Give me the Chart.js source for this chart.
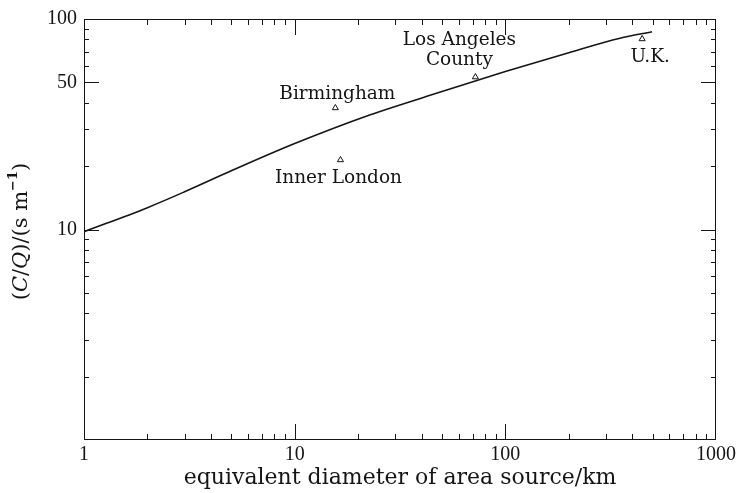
<!DOCTYPE html>
<html>
<head>
<meta charset="utf-8">
<script src="https://cdn.jsdelivr.net/npm/chart.js@4.4.1/dist/chart.umd.min.js"></script>
<style>
  html, body { margin: 0; padding: 0; background: #fff; }
</style>
</head>
<body>
<canvas id="chart" width="741" height="493"></canvas>
<script>
// curve
const curveX = [1, 2, 3, 5, 10, 22.7, 50, 100, 200, 350, 497];
const curveY = [9.76, 12.7, 15.1, 19.0, 25.6, 35.0, 45.2, 56.3, 69.2, 81.0, 87.0];

// observed sites
const siteNames = ['Birmingham', 'Inner London', 'Los Angeles\nCounty', 'U.K.'];
const siteX = [15.6, 16.5, 72.1, 446];
const siteY = [37.8, 21.4, 53.0, 80.4];

const xTickLabels = [1, 10, 100, 1000];
const yTickLabels = [10, 50, 100];

// where each site name sits relative to its marker (dx, dy of first baseline)
const labelOffsets = [[2, -9], [-2, 23], [-16, -32], [8, 23]];

const INK = '#151515';
const SERIF = '"DejaVu Serif", serif';
const TICK_FONT = '"Liberation Serif", serif';

function logMarks(min, max, extraMajor) {
    const out = [];
    for (let d = min; d < max; d *= 10) {
        for (let k = 1; k < 10; k++) {
            const v = k * d;
            if (v <= min) continue;
            out.push({ v: v, major: k === 1 || extraMajor.includes(v) });
        }
    }
    return out;
}

const framePlugin = {
    id: 'frame',
    afterDatasetsDraw(chart) {
        const ctx = chart.ctx;
        const a = chart.chartArea;
        const xs = chart.scales.x;
        const ys = chart.scales.y;
        ctx.save();
        ctx.strokeStyle = INK;
        ctx.lineWidth = 1;
        ctx.strokeRect(a.left + 0.5, a.top + 0.5, a.right - a.left - 1, a.bottom - a.top - 1);

        ctx.beginPath();
        logMarks(1, 1000, []).forEach(m => {
            const px = Math.round(xs.getPixelForValue(m.v)) + 0.5;
            const len = m.major ? 16 : 6;
            ctx.moveTo(px, a.bottom); ctx.lineTo(px, a.bottom - len);
            ctx.moveTo(px, a.top); ctx.lineTo(px, a.top + len);
        });
        logMarks(1, 100, [50]).forEach(m => {
            const py = Math.round(ys.getPixelForValue(m.v)) + 0.5;
            const len = m.major ? 15 : 5;
            ctx.moveTo(a.left, py); ctx.lineTo(a.left + len, py);
            ctx.moveTo(a.right, py); ctx.lineTo(a.right - len, py);
        });
        ctx.stroke();

        // site names
        ctx.fillStyle = INK;
        ctx.font = '18.5px ' + SERIF;
        ctx.textAlign = 'center';
        ctx.textBaseline = 'alphabetic';
        siteNames.forEach((name, i) => {
            const px = xs.getPixelForValue(siteX[i]) + labelOffsets[i][0];
            const py = ys.getPixelForValue(siteY[i]) + labelOffsets[i][1];
            name.split('\n').forEach((line, j) => ctx.fillText(line, px, py + j * 20));
        });

        // y axis title with italic C and Q
        const parts = [
            { t: '(', f: '21px ' + SERIF, dy: 0 },
            { t: 'C', f: 'italic 21px ' + SERIF, dy: 0 },
            { t: '/', f: '21px ' + SERIF, dy: 0 },
            { t: 'Q', f: 'italic 21px ' + SERIF, dy: 0 },
            { t: ')/(s m', f: '21px ' + SERIF, dy: 0 },
            { t: '\u22121', f: 'bold 13px ' + SERIF, dy: -8 },
            { t: ')', f: '21px ' + SERIF, dy: 0 }
        ];
        let total = 0;
        parts.forEach(p => { ctx.font = p.f; p.w = ctx.measureText(p.t).width; total += p.w; });
        ctx.translate(22, (a.top + a.bottom) / 2 + 2);
        ctx.rotate(-Math.PI / 2);
        ctx.textAlign = 'left';
        ctx.textBaseline = 'middle';
        let x = -total / 2;
        parts.forEach(p => {
            ctx.font = p.f;
            ctx.fillText(p.t, x, p.dy);
            x += p.w;
        });
        ctx.restore();
    }
};

const ctx = document.getElementById('chart').getContext('2d');
new Chart(ctx, {
    data: {
        datasets: [
            {
                type: 'line',
                data: curveX.map((x, i) => ({ x: x, y: curveY[i] })),
                borderColor: INK,
                borderWidth: 1.6,
                pointRadius: 0,
                cubicInterpolationMode: 'monotone',
                fill: false
            },
            {
                type: 'scatter',
                data: siteX.map((x, i) => ({ x: x, y: siteY[i] })),
                pointStyle: 'triangle',
                pointRadius: 3.5,
                borderColor: INK,
                backgroundColor: '#fff',
                borderWidth: 1
            }
        ]
    },
    options: {
        responsive: false,
        animation: false,
        devicePixelRatio: 1,
        layout: { padding: { top: 19, right: 25, left: 0, bottom: 0 } },
        plugins: { legend: { display: false }, tooltip: { enabled: false } },
        scales: {
            x: {
                type: 'logarithmic',
                min: 1,
                max: 1000,
                grid: { display: false, drawTicks: false },
                border: { display: false },
                afterBuildTicks: s => { s.ticks = xTickLabels.map(v => ({ value: v })); },
                afterFit: s => { s.height = 53; },
                ticks: {
                    autoSkip: false,
                    maxRotation: 0,
                    padding: 3,
                    color: INK,
                    font: { family: TICK_FONT, size: 20 },
                    callback: v => String(v)
                },
                title: {
                    display: true,
                    text: 'equivalent diameter of area source/km',
                    color: INK,
                    font: { family: SERIF, size: 22 },
                    padding: { top: 0, bottom: 2 }
                }
            },
            y: {
                type: 'logarithmic',
                min: 1,
                max: 100,
                grid: { display: false, drawTicks: false },
                border: { display: false },
                afterBuildTicks: s => { s.ticks = yTickLabels.map(v => ({ value: v })); },
                afterFit: s => { s.width = 84; },
                ticks: {
                    autoSkip: false,
                    padding: 7,
                    color: INK,
                    font: { family: TICK_FONT, size: 20 },
                    callback: v => String(v)
                }
            }
        }
    },
    plugins: [framePlugin]
});
</script>
</body>
</html>
